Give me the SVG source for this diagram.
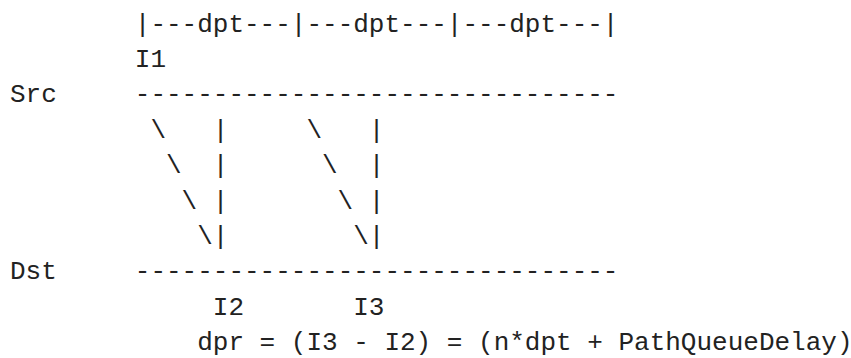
<svg xmlns="http://www.w3.org/2000/svg" width="851" height="358" viewBox="0 0 851 358">
<style>
text{font-family:"Liberation Mono","DejaVu Sans Mono",monospace;font-size:26px;fill:#222;white-space:pre}
</style>
<rect width="851" height="358" fill="#fff"/>
<g id="scale"><text x="134.8" y="31.5">|---dpt---|---dpt---|---dpt---|</text></g>
<g id="i1"><text x="134.8" y="66.9">I1</text></g>
<g id="src"><text x="10" y="102.3">Src</text><text x="134.8" y="102.3">-------------------------------</text></g>
<g id="connectors">
<text x="150.4" y="137.7">\</text><text x="212.8" y="137.7">|</text><text x="306.4" y="137.7">\</text><text x="368.8" y="137.7">|</text>
<text x="166" y="173.1">\</text><text x="212.8" y="173.1">|</text><text x="322" y="173.1">\</text><text x="368.8" y="173.1">|</text>
<text x="181.6" y="208.5">\</text><text x="212.8" y="208.5">|</text><text x="337.6" y="208.5">\</text><text x="368.8" y="208.5">|</text>
<text x="197.2" y="243.9">\</text><text x="212.8" y="243.9">|</text><text x="353.2" y="243.9">\</text><text x="368.8" y="243.9">|</text>
</g>
<g id="dst"><text x="10" y="279.3">Dst</text><text x="134.8" y="279.3">-------------------------------</text></g>
<g id="i2"><text x="212.8" y="314.7">I2</text></g>
<g id="i3"><text x="353.2" y="314.7">I3</text></g>
<g id="formula"><text x="197.2" y="350.1">dpr = (I3 - I2) = (n*dpt + PathQueueDelay)</text></g>
</svg>
